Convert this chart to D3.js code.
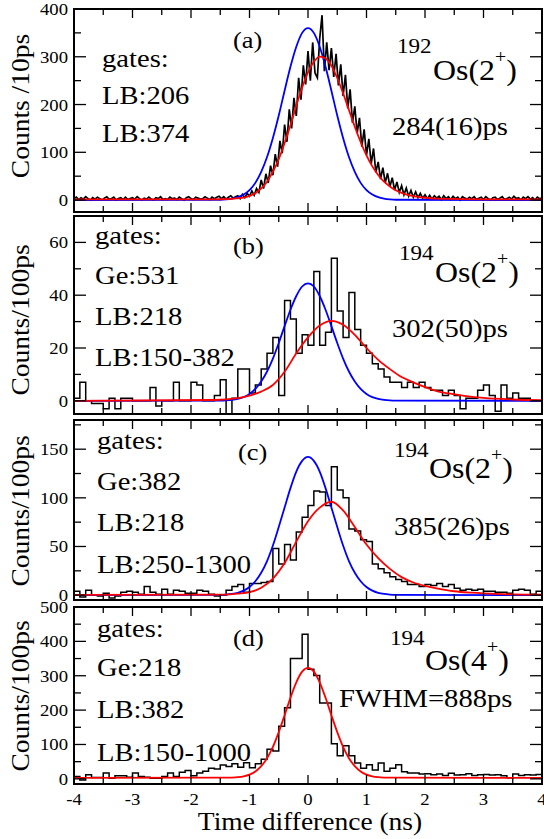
<!DOCTYPE html>
<html>
<head>
<meta charset="utf-8">
<script src="https://cdnjs.cloudflare.com/ajax/libs/d3/7.8.5/d3.min.js"></script>
<style>
  body { margin: 0; background: #fff; }
  svg { display: block; }
  text { font-family: "Liberation Serif", "DejaVu Serif", "Times New Roman", serif; fill: #000; }
</style>
</head>
<body>
<svg width="544" height="839" font-family="Liberation Serif, DejaVu Serif, serif"></svg>
<script>
// time axis ticks (ns)
const xMajor = [-4, -3, -2, -1, 0, 1, 2, 3, 4];
const xMinor = [-3.5, -2.5, -1.5, -0.5, 0.5, 1.5, 2.5, 3.5];

// (a) 192Os, 10 ps binning, one value every 0.04 ns from -4
const aStart = -4, aStep = 0.04;
const aCounts = [
  3,6,1,5,2,7,3,0,5,2,
  6,3,0,4,7,2,3,6,0,3,
  5,1,6,1,3,5,2,7,3,0,
  4,2,6,2,0,5,3,7,1,3,
  1,6,3,4,1,6,3,0,5,7,
  3,1,6,4,2,3,7,4,1,6,
  3,6,8,3,7,2,6,9,4,7,
  9,3,12,5,14,8,19,10,24,16,
  42,24,55,36,72,52,96,70,124,98,
  158,122,190,150,214,176,256,210,282,242,
  312,250,330,266,256,338,387,270,330,272,
  318,258,306,240,284,218,262,192,232,162,
  196,140,172,112,148,94,128,76,108,58,
  80,44,68,36,56,28,47,21,38,16,
  30,11,25,8,20,6,17,5,14,4,
  11,3,10,2,9,4,8,1,9,3,
  7,1,8,3,6,0,7,4,2,6,
  3,7,1,4,6,1,7,3,0,5,
  6,1,4,7,1,3,6,2,8,3,
  5,0,6,3,7,2,5,0,6,3,
  4
];
const aBlueT = [-4, -1.5, -1.4, -1.3, -1.2, -1.1, -1.0, -0.9, -0.8, -0.7, -0.6, -0.5, -0.4, -0.3, -0.2, -0.1, 0,
  0.1, 0.2, 0.3, 0.4, 0.5, 0.6, 0.7, 0.8, 0.9, 1.0, 1.1, 1.2, 1.3, 1.4, 1.5, 4];
const aBlueY = [0, 0.6, 1.4, 3, 6.1, 11.7, 21, 36, 59, 90, 130, 177, 229, 279, 321, 350, 360,
  350, 321, 279, 229, 177, 130, 90, 59, 36, 21, 11.7, 6.1, 3, 1.4, 0.6, 0];
const aRedT = [-4, -1.6, -1.5, -1.4, -1.3, -1.2, -1.1, -1.0, -0.9, -0.8, -0.7, -0.6, -0.5, -0.4, -0.3, -0.2, -0.1,
  0, 0.1, 0.2, 0.3, 0.4, 0.5, 0.6, 0.7, 0.8, 0.9, 1.0, 1.1, 1.2, 1.3, 1.4, 1.5, 1.6, 1.7, 1.8, 1.9, 2.0, 2.1, 2.2,
  2.4, 2.6, 3.0, 4];
const aRedY = [1.5, 1.6, 1.7, 2.0, 2.5, 3.8, 5.3, 8.8, 14.5, 24.5, 38.5, 59.5, 85.5, 119.5, 156.5, 197.5, 235.5,
  267.5, 289.5, 300.5, 296.5, 281.5, 255.5, 223.5, 188.5, 153.5, 121.5, 93.5, 70.5, 52.5, 38.5, 28.5, 20.5, 15, 11, 8.3, 6.2, 4.8, 3.8, 3.1,
  2.3, 1.9, 1.6, 1.5];

// (b), (c), (d): 100 ps bins starting at -4
const binStart = -4, binWidth = 0.1;
const bCounts = [
  1,7,0,-1,-1,-3,1,-3,1,1,
  0,0,0,5,-2,0,0,7,0,0,
  7,6,0,0,2,8,-5,1,12,12,
  3,6,12,18,24,2,38,31,18,25,
  21,49,21,26,54,34,24,41,27,21,
  18,14,12,9,7,7,5,7,5,7,
  5,4,4,2,4,2,-3,1,1,4,
  6,2,-4,6,1,3,1,1,0,0
];
const bBlueT = [-4, -1.5, -1.4, -1.3, -1.2, -1.1, -1.0, -0.9, -0.8, -0.7, -0.6, -0.5, -0.4, -0.3, -0.2, -0.1, 0,
  0.1, 0.2, 0.3, 0.4, 0.5, 0.6, 0.7, 0.8, 0.9, 1.0, 1.1, 1.2, 1.3, 1.4, 1.5, 4];
const bBlueY = [0, 0.1, 0.17, 0.37, 0.75, 1.4, 2.6, 4.5, 7.3, 11.1, 16.0, 21.9, 28.3, 34.5, 39.7, 43.3, 44.5,
  43.3, 39.7, 34.5, 28.3, 21.9, 16.0, 11.1, 7.3, 4.5, 2.6, 1.4, 0.75, 0.37, 0.17, 0.1, 0];
const bRedT = [-4, -1.6, -1.2, -1.0, -0.8, -0.6, -0.4, -0.2, 0, 0.2, 0.4, 0.6, 0.8, 1.0, 1.2, 1.4, 1.6, 1.8, 2.0, 2.2, 2.4, 2.7, 3.0, 3.5, 4];
const bRedY = [0, 0.3, 1, 2, 3.5, 6, 11, 18, 24, 28.5, 30.3, 28.8, 25, 20, 15.5, 12, 9, 7, 5.2, 3.7, 2.8, 1.8, 1.1, 0.5, 0.2];

const cCounts = [
  4,-2,5,0,-1,2,-3,-1,3,4,
  3,1,9,3,1,6,1,5,4,2,
  2,5,4,1,-1,0,5,9,11,3,
  12,12,13,14,48,32,52,36,65,80,
  92,107,106,92,132,108,100,68,66,57,
  55,32,27,23,19,16,14,11,11,9,
  11,10,12,9,11,7,5,6,5,6,
  4,4,3,3,2,5,6,5,1,4
];
const cBlueT = bBlueT;
const cBlueY = [0, 0.24, 0.55, 1.2, 2.4, 4.6, 8.3, 14.3, 23, 35, 51, 70, 90, 110, 127, 138, 142,
  138, 127, 110, 90, 70, 51, 35, 23, 14.3, 8.3, 4.6, 2.4, 1.2, 0.55, 0.24, 0];
const cRedT = [-4, -1.4, -1.2, -1.0, -0.8, -0.6, -0.4, -0.2, 0, 0.2, 0.4, 0.6, 0.8, 1.0, 1.2, 1.4, 1.6, 1.8, 2.0, 2.2, 2.5, 2.8, 3.0, 3.5, 4];
const cRedY = [0.3, 0.5, 1.5, 3, 7.5, 17, 33, 55, 76, 90, 96, 87, 70, 52, 38, 27, 18.5, 13, 9.5, 7, 4, 2.5, 1.8, 0.8, 0.5];

const dCounts = [
  7,-3,12,4,4,17,2,9,9,5,
  17,7,5,2,2,7,17,7,19,24,
  9,17,22,31,29,40,36,44,34,47,
  32,44,57,86,81,153,207,350,350,421,
  319,301,221,221,102,67,96,67,46,31,
  41,26,46,22,31,41,21,17,17,14,
  15,12,14,10,16,11,12,15,10,12,
  13,11,12,9,3,14,10,12,11,13
];
const dRedT = [-4, -1.4, -1.3, -1.2, -1.1, -1.0, -0.9, -0.8, -0.7, -0.6, -0.5, -0.4, -0.3, -0.2, -0.1, 0,
  0.1, 0.2, 0.3, 0.4, 0.5, 0.6, 0.7, 0.8, 0.9, 1.0, 1.1, 1.2, 1.3, 1.4, 4];
const dRedY = [3, 3.3, 3.8, 5, 7.5, 12.5, 21.5, 37, 60, 93, 136, 185, 236, 281, 312, 323,
  312, 281, 236, 185, 136, 93, 60, 37, 21.5, 12.5, 7.5, 5, 3.8, 3.3, 3];

// y ticks
const aYMajor = [0, 100, 200, 300, 400], aYMinor = [50, 150, 250, 350];
const bYMajor = [0, 20, 40, 60], bYMinor = [10, 30, 50];
const cYMajor = [0, 50, 100, 150], cYMinor = [25, 75, 125, 175];
const dYMajor = [0, 100, 200, 300, 400, 500], dYMinor = [50, 150, 250, 350, 450];

// texts
const aGates = ['gates:', 'LB:206', 'LB:374'];
const bGates = ['gates:', 'Ge:531', 'LB:218', 'LB:150-382'];
const cGates = ['gates:', 'Ge:382', 'LB:218', 'LB:250-1300'];
const dGates = ['gates:', 'Ge:218', 'LB:382', 'LB:150-1000'];
const masses = ['192', '194', '194', '194'];
const levels = ['2', '2', '2', '4'];
const results = ['284(16)ps', '302(50)ps', '385(26)ps', 'FWHM=888ps'];
const yTitles = ['Counts /10ps', 'Counts/100ps', 'Counts/100ps', 'Counts/100ps'];

(function (d3) {
  'use strict';
  const svg = d3.select('svg');
  const stretch = 1.1;
  const left = 74, right = 542;
  const x = d3.scaleLinear().domain([-4, 4]).range([left, right]);

  const panels = [
    { id: 'a', top: 9, bottom: 212, domain: [-25, 400], major: aYMajor, minor: aYMinor, gates: aGates,
      gx: 102, gy: [67, 104, 142], letter: [233, 48], mass: [397, 53], sym: [433, 80], res: [392, 135], title: 106 },
    { id: 'b', top: 216, bottom: 414, domain: [-5, 70], major: bYMajor, minor: bYMinor, gates: bGates,
      gx: 95, gy: [244, 284, 325, 366], letter: [233, 254], mass: [399, 260], sym: [435, 282], res: [392, 337], title: 320 },
    { id: 'c', top: 420, bottom: 600, domain: [-5, 180], major: cYMajor, minor: cYMinor, gates: cGates,
      gx: 97, gy: [449, 490, 531, 573], letter: [238, 460], mass: [394, 457], sym: [429, 478], res: [394, 535], title: 511 },
    { id: 'd', top: 607, bottom: 784, domain: [-15, 500], major: dYMajor, minor: dYMinor, gates: dGates,
      gx: 97, gy: [637, 676, 718, 761], letter: [233, 646], mass: [390, 645], sym: [425, 670], res: [339, 707], title: 696 }
  ];

  const addText = (g, px, py, str, size, anchor) => g.append('text')
    .attr('transform', `translate(${px},${py}) scale(${stretch},1)`)
    .attr('font-size', size)
    .attr('text-anchor', anchor || 'start')
    .text(str);

  const pairs = (ts, ys) => ts.map((t, i) => [t, ys[i]]);
  const bins = counts => {
    const pts = counts.map((v, i) => [binStart + i * binWidth, v]);
    pts.push([binStart + counts.length * binWidth, counts[counts.length - 1]]);
    return pts;
  };

  const series = {
    a: { hist: aCounts.map((v, i) => [aStart + i * aStep, v]), step: false,
         blue: pairs(aBlueT, aBlueY), red: pairs(aRedT, aRedY) },
    b: { hist: bins(bCounts), step: true, blue: pairs(bBlueT, bBlueY), red: pairs(bRedT, bRedY) },
    c: { hist: bins(cCounts), step: true, blue: pairs(cBlueT, cBlueY), red: pairs(cRedT, cRedY) },
    d: { hist: bins(dCounts), step: true, blue: null, red: pairs(dRedT, dRedY) }
  };

  const defs = svg.append('defs');

  panels.forEach((p, pi) => {
    const y = d3.scaleLinear().domain(p.domain).range([p.bottom, p.top]);
    const g = svg.append('g');
    const s = series[p.id];

    defs.append('clipPath').attr('id', 'clip-' + p.id)
      .append('rect').attr('x', left).attr('y', p.top)
      .attr('width', right - left).attr('height', p.bottom - p.top);

    const plot = g.append('g').attr('clip-path', `url(#clip-${p.id})`);

    const histLine = d3.line().x(d => x(d[0])).y(d => y(d[1]))
      .curve(s.step ? d3.curveStepAfter : d3.curveLinear);
    plot.append('path').datum(s.hist)
      .attr('d', histLine)
      .attr('fill', 'none')
      .attr('stroke', '#000')
      .attr('stroke-width', s.step ? 1.5 : 1.7);

    const fitLine = d3.line().x(d => x(d[0])).y(d => y(d[1])).curve(d3.curveMonotoneX);
    if (s.blue) {
      plot.append('path').datum(s.blue).attr('d', fitLine)
        .attr('fill', 'none').attr('stroke', '#0000ff').attr('stroke-width', 1.8);
    }
    plot.append('path').datum(s.red).attr('d', fitLine)
      .attr('fill', 'none').attr('stroke', '#ff0000').attr('stroke-width', 1.8);

    // ticks: x on top and bottom, y on left and right, all inward
    const ticks = g.append('g').attr('stroke', '#000').attr('stroke-width', 1.3);
    xMajor.concat(xMinor).forEach(t => {
      const len = xMajor.includes(t) ? 9 : 6;
      ticks.append('line').attr('x1', x(t)).attr('x2', x(t)).attr('y1', p.bottom).attr('y2', p.bottom - len);
      ticks.append('line').attr('x1', x(t)).attr('x2', x(t)).attr('y1', p.top).attr('y2', p.top + len);
    });
    p.major.concat(p.minor).forEach(v => {
      const len = p.major.includes(v) ? 12 : 7;
      ticks.append('line').attr('x1', left).attr('x2', left + len).attr('y1', y(v)).attr('y2', y(v));
      ticks.append('line').attr('x1', right).attr('x2', right - len).attr('y1', y(v)).attr('y2', y(v));
    });

    p.major.forEach(v => {
      addText(g, 68, y(v) + 6, String(v), 17, 'end');
    });

    g.append('rect')
      .attr('x', left).attr('y', p.top)
      .attr('width', right - left).attr('height', p.bottom - p.top)
      .attr('fill', 'none').attr('stroke', '#000').attr('stroke-width', 2);

    // annotations
    p.gates.forEach((t, i) => addText(g, p.gx, p.gy[i], t, 26));
    addText(g, p.letter[0], p.letter[1], `(${p.id})`, 24);
    addText(g, p.mass[0], p.mass[1], masses[pi], 21);
    const sym = addText(g, p.sym[0], p.sym[1], '', 29);
    sym.append('tspan').text('Os(' + levels[pi]);
    sym.append('tspan').attr('font-size', 18).attr('dy', -17).text('+');
    sym.append('tspan').attr('dy', 17).text(')');
    addText(g, p.res[0], p.res[1], results[pi], 26);

    g.append('text')
      .attr('transform', `translate(29,${p.title}) rotate(-90) scale(${stretch},1)`)
      .attr('font-size', 25)
      .attr('text-anchor', 'middle')
      .text(yTitles[pi]);
  });

  // bottom axis labels
  xMajor.forEach(t => {
    addText(svg, x(t), 805, String(t), 17, 'middle');
  });
  addText(svg, 310, 830, 'Time difference (ns)', 25, 'middle');
}(d3));
</script>
</body>
</html>
